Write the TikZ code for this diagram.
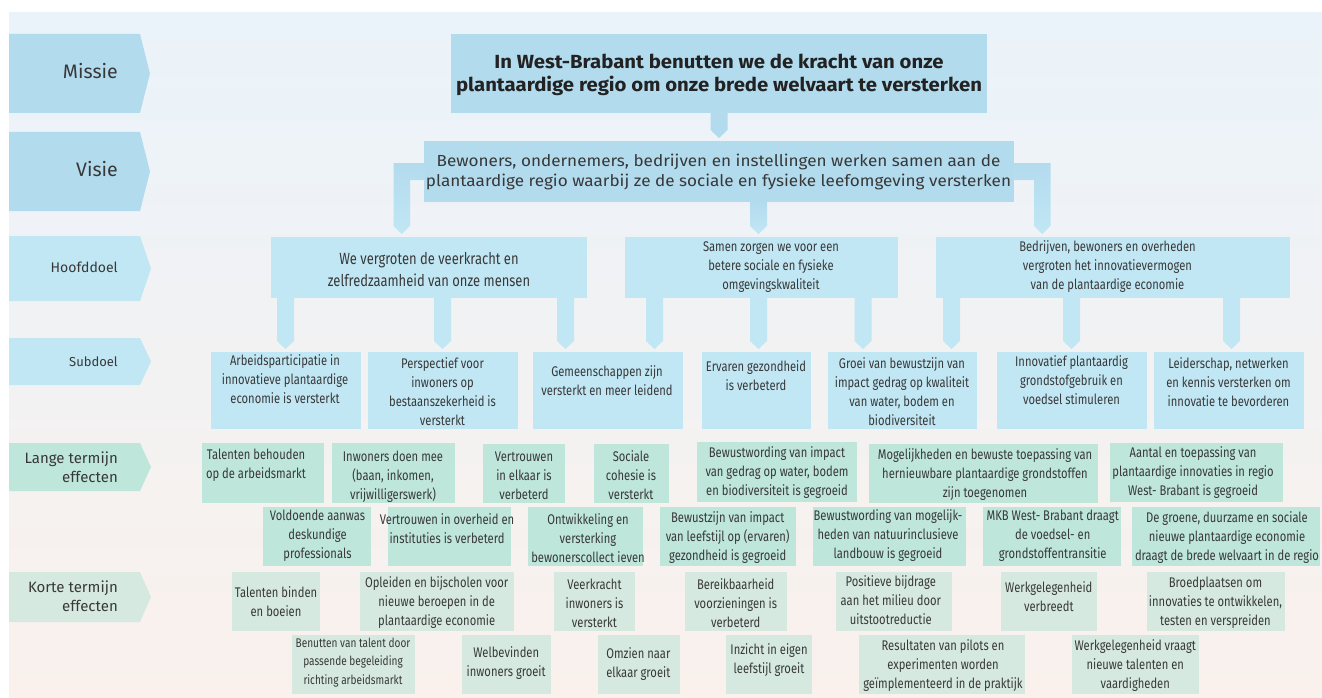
\documentclass[tikz,border=0pt]{standalone}
\usepackage{fontspec}
\setmainfont{Fira Sans}
\newfontfamily\cnd[FakeStretch=0.80]{Fira Sans}
\newfontfamily\semi[FakeStretch=1.07]{Fira Sans}
\usetikzlibrary{calc}
\definecolor{bgtop}{RGB}{234,243,250}
\definecolor{bgmid}{RGB}{237,245,242}
\definecolor{bgbot}{RGB}{250,241,236}
\definecolor{blueA}{RGB}{179,219,238}
\definecolor{blueB}{RGB}{193,231,244}
\definecolor{greenA}{RGB}{190,230,218}
\definecolor{greenB}{RGB}{214,233,225}
\definecolor{ink}{RGB}{56,56,56}
\definecolor{inkd}{RGB}{34,34,34}
\tikzset{
  boxs/.style={inner sep=0pt, outer sep=0pt, anchor=north west, draw=none},
  txt/.style={inner sep=0pt, text=ink, align=center, font=\cnd\fontsize{14}{19}\selectfont},
  lbl/.style={inner sep=0pt, text=ink, align=right},
}
\newcommand\bx[6]{\node[boxs,fill=#6,minimum width={#4-#2},minimum height={#5-#3}] (#1) at (#2,#3) {};}
\newcommand\conn[4]{\path[#4] let \p1=(#1.south), \p2=(#2.north) in
  ({(#3-8.5)*1pt},{\y1+1pt}) -- ({(#3+8.5)*1pt},{\y1+1pt}) -- ({(#3+8.5)*1pt},{\y2+11pt})
  -- ({#3*1pt},{\y2+3pt}) -- ({(#3-8.5)*1pt},{\y2+11pt}) -- cycle;}
\begin{document}
\begin{tikzpicture}[x=1pt,y=-1pt]
\useasboundingbox (0,0) rectangle (1322,698);
\fill[white] (0,0) rectangle (1322,698);
\shade[top color=bgtop, middle color=bgmid, bottom color=bgbot] (9,13) rectangle (1322,698);

% left labels
\fill[blueA] (9,34) -- (140,34) -- (150,73.5) -- (140,113) -- (9,113) -- cycle;
\node[lbl, anchor=base east, font=\fontsize{19.5}{22}\selectfont] (lmissie) at (118,79) {Missie};
\fill[blueA] (9,132) -- (140,132) -- (150,171.5) -- (140,211) -- (9,211) -- cycle;
\node[lbl, anchor=base east, font=\fontsize{19.5}{22}\selectfont] (lvisie) at (118,176.7) {Visie};
\fill[blueB] (9,236) -- (140,236) -- (151,268.5) -- (140,301) -- (9,301) -- cycle;
\node[lbl, anchor=base east, font=\fontsize{14}{17}\selectfont] (lhoofd) at (118,272.7) {Hoofddoel};
\fill[blueB] (9,338) -- (140,338) -- (151,361.5) -- (140,385) -- (9,385) -- cycle;
\node[lbl, anchor=base east, font=\fontsize{13}{16}\selectfont] (lsub) at (118,366.7) {Subdoel};
\fill[greenA] (9,443) -- (140,443) -- (151,467) -- (140,491) -- (9,491) -- cycle;
\node[lbl, anchor=east, font=\fontsize{15}{19}\selectfont] (llange) at (118,467.3) {Lange termijn\\effecten};
\fill[greenB] (9,572) -- (140,572) -- (151,597) -- (140,622) -- (9,622) -- cycle;
\node[lbl, anchor=east, font=\fontsize{15}{19}\selectfont] (lkorte) at (118,596.7) {Korte termijn\\effecten};

% boxes (mission, vision, goals)
\bx{m}{451}{34}{987}{113}{blueA}
\bx{v}{424}{141}{1014}{202}{blueA}
\bx{h1}{271}{237}{587}{298}{blueB}
\bx{h2}{625}{237}{898}{298}{blueB}
\bx{h3}{936}{237}{1290}{298}{blueB}
\bx{s1}{211}{352}{361}{429}{blueB}
\bx{s2}{368}{352}{518}{429}{blueB}
\bx{s3}{533}{352}{683}{429}{blueB}
\bx{s4}{702}{352}{811}{429}{blueB}
\bx{s5}{828}{352}{977}{429}{blueB}
\bx{s6}{997}{352}{1147}{429}{blueB}
\bx{s7}{1154}{352}{1304}{429}{blueB}

% connectors
\conn{m}{v}{719}{fill=blueA}
\path[top color=blueA, bottom color=blueB] let \p1=(v.west), \p2=(h1.north) in
  ({\x1+1pt},{\y1+8.5pt}) -- (393.5pt,{\y1+8.5pt}) -- (393.5pt,{\y2+11pt}) -- (401.75pt,{\y2+3pt})
  -- (410pt,{\y2+11pt}) -- (410pt,{\y1-8.5pt}) -- ({\x1+1pt},{\y1-8.5pt}) -- cycle;
\path[top color=blueA, bottom color=blueB] let \p1=(v.east), \p2=(h3.north) in
  ({\x1-1pt},{\y1+8.5pt}) -- (1050.5pt,{\y1+8.5pt}) -- (1050.5pt,{\y2+11pt}) -- (1042.25pt,{\y2+3pt})
  -- (1034pt,{\y2+11pt}) -- (1034pt,{\y1-8.5pt}) -- ({\x1-1pt},{\y1-8.5pt}) -- cycle;
\conn{v}{h2}{758.5}{top color=blueA, bottom color=blueB}
\conn{h1}{s1}{285.5}{fill=blueB}
\conn{h1}{s2}{442.5}{fill=blueB}
\conn{h1}{s3}{565.5}{fill=blueB}
\conn{h2}{s3}{654.5}{fill=blueB}
\conn{h2}{s4}{758.5}{fill=blueB}
\conn{h2}{s5}{863}{fill=blueB}
\conn{h3}{s5}{951.5}{fill=blueB}
\conn{h3}{s6}{1071.5}{fill=blueB}
\conn{h3}{s7}{1231.5}{fill=blueB}

% long-term boxes
\bx{l1}{202}{443}{324}{503}{greenA}
\bx{l2}{332}{443}{455}{503}{greenA}
\bx{l3}{483}{444}{565}{503}{greenA}
\bx{l4}{594}{444}{669}{503}{greenA}
\bx{l5}{697}{442}{857}{502}{greenA}
\bx{l6}{869}{444}{1098}{503}{greenA}
\bx{l7}{1110}{443}{1283}{502}{greenA}
\bx{l8}{263}{507}{371}{566}{greenA}
\bx{l9}{388}{507}{511}{566}{greenA}
\bx{l10}{528}{507}{643}{566}{greenA}
\bx{l11}{660}{507}{796}{566}{greenA}
\bx{l12}{813}{507}{966}{566}{greenA}
\bx{l13}{983}{507}{1121}{566}{greenA}
\bx{l14}{1132}{507}{1320}{566}{greenA}
% short-term boxes
\bx{k1}{232}{572}{320}{631}{greenB}
\bx{k2}{360}{572}{514}{631}{greenB}
\bx{k3}{554}{572}{635}{631}{greenB}
\bx{k4}{685}{572}{787}{631}{greenB}
\bx{k5}{836}{572}{952}{631}{greenB}
\bx{k6}{1001}{572}{1097}{631}{greenB}
\bx{k7}{1147}{572}{1285}{631}{greenB}
\bx{k8}{292}{635}{415}{694}{greenB}
\bx{k9}{462}{635}{551}{694}{greenB}
\bx{k10}{598}{635}{680}{694}{greenB}
\bx{k11}{726}{635}{812}{694}{greenB}
\bx{k12}{859}{635}{1025}{694}{greenB}
\bx{k13}{1072}{635}{1199}{694}{greenB}

% texts
\node[txt, text=inkd, font=\semi\bfseries\fontsize{19}{23}\selectfont] (mt) at (719,74.7)
  {In West-Brabant benutten we de kracht van onze\\plantaardige regio om onze brede welvaart te versterken};
\node[txt, font=\semi\fontsize{16}{20}\selectfont] (vt) at (718.5,171.7)
  {Bewoners, ondernemers, bedrijven en instellingen werken samen aan de\\plantaardige  regio waarbij ze de sociale en fysieke leefomgeving versterken};
\node[txt, font=\cnd\fontsize{16.2}{22}\selectfont] (h1t) at (429,270) {We vergroten de veerkracht en\\zelfredzaamheid van onze  mensen};
\node[txt] (h2t) at (771,267) {Samen zorgen we voor een\\betere sociale en fysieke\\omgevingskwaliteit};
\node[txt] (h3t) at (1107.5,267) {Bedrijven, bewoners en overheden\\vergroten het innovatievermogen\\van de  plantaardige economie};

\node[txt] (s1t) at (285,379) {Arbeidsparticipatie in\\innovatieve plantaardige\\economie is versterkt};
\node[txt] (s2t) at (442.5,392) {Perspectief voor\\inwoners op\\bestaanszekerheid is\\versterkt};
\node[txt] (s3t) at (607,381) {Gemeenschappen zijn\\versterkt en meer leidend};
\node[txt] (s4t) at (756,376) {Ervaren gezondheid\\is  verbeterd};
\node[txt] (s5t) at (902,392) {Groei van bewustzijn van\\impact gedrag op kwaliteit\\van water, bodem en\\biodiversiteit};
\node[txt] (s6t) at (1071.5,380.5) {Innovatief plantaardig\\grondstofgebruik en\\voedsel stimuleren};
\node[txt] (s7t) at (1228.5,382.5) {Leiderschap, netwerken\\en kennis versterken om\\innovatie te bevorderen};

\node[txt] (l1t) at (256,465) {Talenten behouden\\op de arbeidsmarkt};
\node[txt] (l2t) at (393,476.7) {Inwoners doen mee\\(baan, inkomen,\\vrijwilligerswerk)};
\node[txt] (l3t) at (524,475.8) {Vertrouwen\\in elkaar is\\verbeterd};
\node[txt] (l4t) at (631,474.7) {Sociale\\cohesie is\\versterkt};
\node[txt] (l5t) at (777,473) {Bewustwording van impact\\van  gedrag op water, bodem\\en biodiversiteit is gegroeid};
\node[txt] (l6t) at (985,474.7) {Mogelijkheden en bewuste toepassing van\\hernieuwbare plantaardige grondstoffen\\zijn toegenomen};
\node[txt] (l7t) at (1193,473) {Aantal en toepassing van\\plantaardige innovaties in regio\\West- Brabant is gegroeid};
\node[txt] (l8t) at (317.5,535.3) {Voldoende aanwas\\deskundige\\professionals};
\node[txt] (l9t) at (447,528.8) {Vertrouwen in overheid en\\instituties is verbeterd};
\node[txt] (l10t) at (588,538.3) {Ontwikkeling en\\versterking\\bewonerscollect ieven};
\node[txt] (l11t) at (727.7,538) {Bewustzijn van impact\\van  leefstijl op (ervaren)\\gezondheid is gegroeid};
\node[txt] (l12t) at (888,535.7) {Bewustwording van mogelijk-\\heden van natuurinclusieve\\landbouw is gegroeid};
\node[txt] (l13t) at (1052.7,535.7) {MKB West- Brabant draagt\\de voedsel- en\\grondstoffentransitie};
\node[txt] (l14t) at (1227,538) {De groene, duurzame en sociale\\nieuwe plantaardige economie\\draagt de brede welvaart in de regio};

\node[txt] (k1t) at (276,601.2) {Talenten binden\\en boeien};
\node[txt] (k2t) at (436.7,603) {Opleiden en bijscholen voor\\nieuwe beroepen in de\\plantaardige economie};
\node[txt] (k3t) at (594.5,603) {Veerkracht\\inwoners is\\versterkt};
\node[txt] (k4t) at (735.7,603) {Bereikbaarheid\\voorzieningen is\\verbeterd};
\node[txt] (k5t) at (890.8,600) {Positieve bijdrage\\aan het milieu door\\uitstootreductie};
\node[txt] (k6t) at (1048.8,596.5) {Werkgelegenheid\\verbreedt};
\node[txt] (k7t) at (1215.5,603) {Broedplaatsen om\\innovaties te ontwikkelen,\\testen en verspreiden};
\node[txt, font=\cnd\fontsize{12.6}{18.5}\selectfont] (k8t) at (353,662.5) {Benutten van talent door\\passende begeleiding\\richting arbeidsmarkt};
\node[txt] (k9t) at (506.2,663.3) {Welbevinden\\inwoners groeit};
\node[txt] (k10t) at (638.3,663.7) {Omzien naar\\elkaar groeit};
\node[txt] (k11t) at (769,660) {Inzicht in eigen\\leefstijl groeit};
\node[txt] (k12t) at (943,665.7) {Resultaten van pilots en\\experimenten worden\\geïmplementeerd in de praktijk};
\node[txt] (k13t) at (1135.3,665.7) {Werkgelegenheid vraagt\\nieuwe talenten en\\vaardigheden};
\end{tikzpicture}
\end{document}
